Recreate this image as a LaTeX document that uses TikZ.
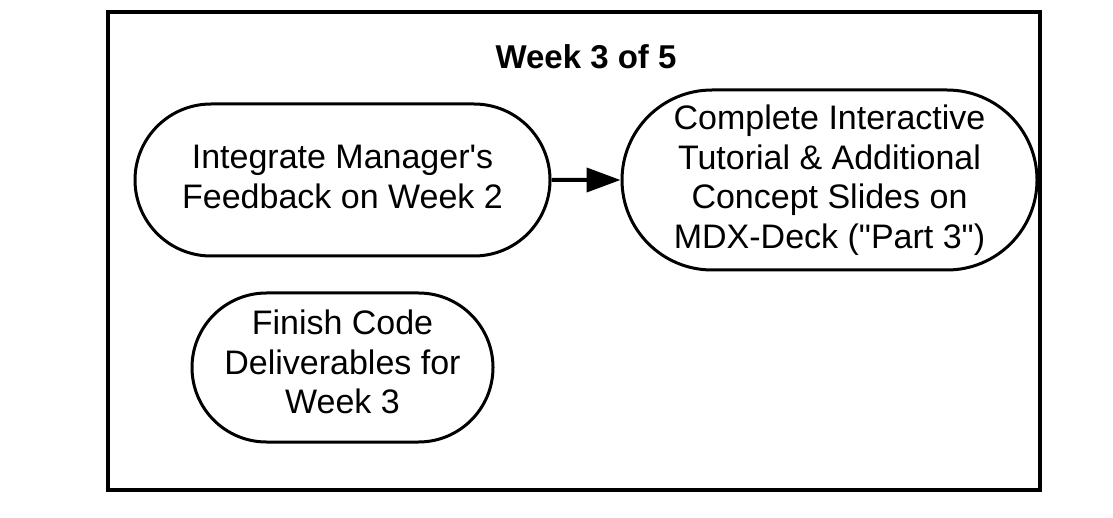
\documentclass[tikz,border=0pt]{standalone}
\usepackage{fontspec}
\newfontfamily\lsans{Liberation Sans}
\usetikzlibrary{shapes.misc,arrows.meta}
\begin{document}
\begin{tikzpicture}[x=1pt,y=-1pt,
  box/.style={rounded rectangle, draw, line width=3pt, inner sep=0pt},
  txt/.style={align=center, font=\lsans\fontsize{34}{39.5}\selectfont, inner sep=0pt},
  conn/.style={line width=4pt, -{Triangle[length=34pt,width=24pt]}}]
\useasboundingbox (0,0) rectangle (1113,518);
\node[draw, line width=4pt, minimum width=932pt, minimum height=478pt, inner sep=0pt] (frame) at (574,251) {};
\node[font=\lsans\bfseries\fontsize{33}{40}\selectfont] (title) at (586,57) {Week 3 of 5};
\node[box, minimum width=415pt, minimum height=152pt] (n1) at (342.5,180) {};
\node[box, minimum width=415pt, minimum height=180pt] (n2) at (829.5,180) {};
\node[box, minimum width=301pt, minimum height=149pt] (n3) at (342.5,367.5) {};
\node[txt] (t1) at ([yshift=3pt]n1.center) {Integrate Manager's\\Feedback on Week 2};
\node[txt] (t2) at (n2.center) {Complete Interactive\\Tutorial \& Additional\\Concept Slides on\\MDX-Deck ("Part 3")};
\node[txt] (t3) at ([yshift=5.5pt]n3.center) {Finish Code\\Deliverables for\\Week 3};
\draw[conn] (n1) -- (n2);
\end{tikzpicture}
\end{document}
